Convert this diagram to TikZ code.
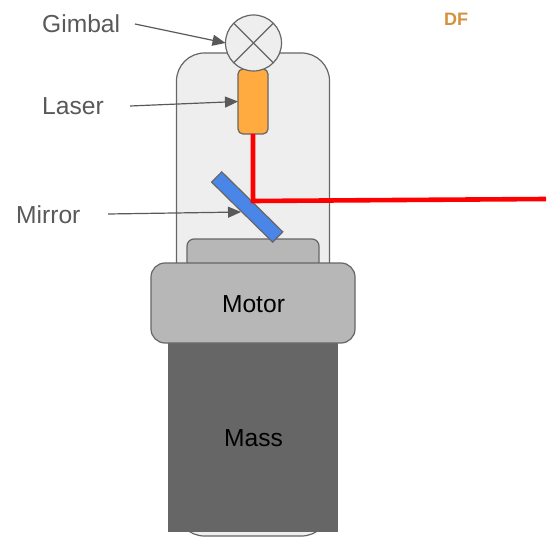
\documentclass[tikz,border=0pt]{standalone}
\usepackage{fontspec}
\setmainfont{Liberation Sans}
\usetikzlibrary{arrows.meta}
\definecolor{edgegray}{HTML}{666666}
\definecolor{labelgray}{HTML}{595959}
\definecolor{bodyfill}{HTML}{EEEEEE}
\definecolor{motorfill}{HTML}{B7B7B7}
\definecolor{massfill}{HTML}{666666}
\definecolor{laserfill}{HTML}{FFAB40}
\definecolor{mirrorfill}{HTML}{4A86E8}
\definecolor{markcolor}{HTML}{D4923A}
\tikzset{
  part/.style={draw=edgegray,line width=1.2pt,inner sep=0pt,outer sep=0pt,anchor=center},
  caption/.style={text=labelgray,font=\fontsize{24.6}{28}\selectfont,inner sep=0pt,anchor=base west},
  inside/.style={text=black,font=\fontsize{24.6}{28}\selectfont,inner sep=0pt,anchor=base},
  pointer/.style={draw=labelgray,line width=1.2pt,-{Triangle[length=13pt,width=11pt]},shorten >=0pt},
  beam/.style={draw=red,line width=4.6pt,line join=miter}
}
\begin{document}
\begin{tikzpicture}[x=1pt,y=-1pt]
\useasboundingbox (0,0) rectangle (553,545);
\node[part,fill=bodyfill,rounded corners=28pt,minimum width=153pt,minimum height=483pt] (body) at (253,294.5) {};
\node[part,fill=motorfill,rounded corners=7pt,minimum width=132pt,minimum height=30pt] (motortop) at (253,254) {};
\node[part,fill=laserfill,rounded corners=5pt,minimum width=30pt,minimum height=65pt] (laser) at (253,101.5) {};
\node[part,fill=bodyfill,circle,minimum size=56pt] (gimbal) at (253.5,43) {};
\draw[edgegray,line width=1.2pt] (gimbal.45) -- (gimbal.225) (gimbal.135) -- (gimbal.315);
\node[part,fill=mirrorfill,minimum width=85.6pt,minimum height=14.4pt,rotate=-44.5] (mirror) at (247.2,207) {};
\node[draw=massfill,fill=massfill,line width=0.5pt,inner sep=0pt,minimum width=169pt,minimum height=188pt] (mass) at (253,437) {};
\node[part,fill=motorfill,rounded corners=14pt,minimum width=204pt,minimum height=80pt] (motor) at (253,303) {};
\coordinate (bend) at (253,201);
\coordinate (beamend) at (546,199);
\draw[beam] (laser.south) -- (bend) -- (beamend);
\node[caption] (gimballabel) at (42,33) {Gimbal};
\node[caption] (laserlabel) at (42,115) {Laser};
\node[caption] (mirrorlabel) at (16,223) {Mirror};
\node[inside] (motorlabel) at (253.5,312) {Motor};
\node[inside] (masslabel) at (253.5,446) {Mass};
\node[text=markcolor,font=\fontsize{18}{20}\bfseries\selectfont,inner sep=0pt,anchor=base] (mark) at (456,26) {DF};
\coordinate (gimbalstart) at (135,24);
\coordinate (laserstart) at (130,106);
\coordinate (mirrorstart) at (108,214);
\coordinate (mirrorhit) at (241,212);
\draw[pointer] (gimbalstart) -- (gimbal.west);
\draw[pointer] (laserstart) -- (laser.west);
\draw[pointer] (mirrorstart) -- (mirrorhit);
\end{tikzpicture}
\end{document}
